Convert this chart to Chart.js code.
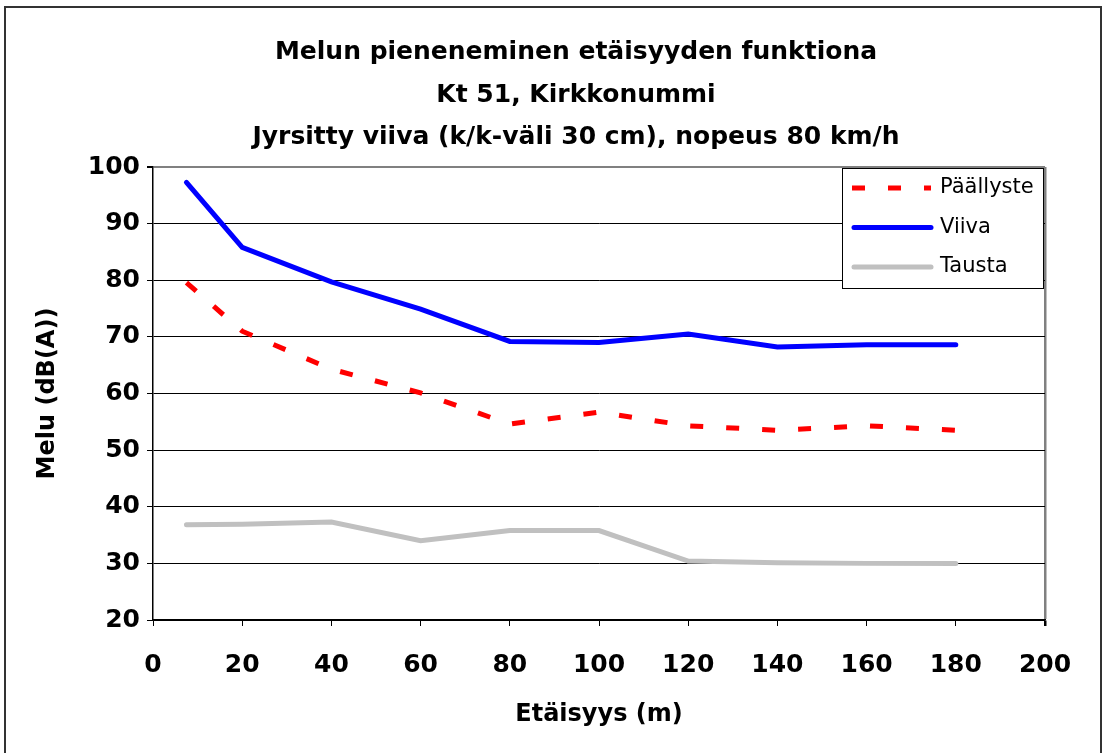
<!DOCTYPE html>
<html>
<head>
<meta charset="utf-8">
<script src="https://cdn.jsdelivr.net/npm/chart.js@4/dist/chart.umd.min.js"></script>
<style>
  body { margin: 0; background: #fff; }
  #wrap { position: relative; width: 1106px; height: 753px; }
</style>
</head>
<body>
<div id="wrap"><canvas id="chart-melu" width="1106" height="753"></canvas></div>
<script>
// values
var distances = [7.5, 20, 40, 60, 80, 100, 120, 140, 160, 180];
var paallyste = [79.6, 71.0, 64.3, 60.1, 54.6, 56.7, 54.3, 53.5, 54.3, 53.5];
var viiva = [97.3, 85.8, 79.7, 74.9, 69.2, 69.0, 70.5, 68.2, 68.6, 68.6];
var tausta = [36.8, 36.9, 37.3, 34.0, 35.8, 35.8, 30.4, 30.1, 30.0, 30.0];
var seriesLabels = ["Päällyste", "Viiva", "Tausta"];
var titleLines = [
  "Melun pieneneminen etäisyyden funktiona",
  "Kt 51, Kirkkonummi",
  "Jyrsitty viiva (k/k-väli 30 cm), nopeus 80 km/h"
];
var xTitle = "Etäisyys (m)";
var yTitle = "Melu (dB(A))";

var FONT = "'DejaVu Sans', 'Liberation Sans', Arial, sans-serif";

function toPoints(ys) {
  return distances.map(function(x, i) { return {x: x, y: ys[i]}; });
}

// title drawn by hand so it can sit off-centre like the original
var titlePlugin = {
  id: 'bigTitle',
  afterDraw: function(chart) {
    var ctx = chart.ctx;
    ctx.save();
    ctx.fillStyle = '#000';
    ctx.font = 'bold 25px ' + FONT;
    ctx.textAlign = 'center';
    ctx.textBaseline = 'middle';
    var ys = [52, 95, 137];
    titleLines.forEach(function(t, i) {
      ctx.fillText(t, 576, ys[i]);
    });
    ctx.restore();
  }
};

// legend box in the top right corner of the plot
var boxLegend = {
  id: 'boxLegend',
  afterDraw: function(chart) {
    var ctx = chart.ctx;
    var area = chart.chartArea;
    var left = 842, top = area.top + 1, w = 201, h = 120;
    ctx.save();
    ctx.fillStyle = '#fff';
    ctx.fillRect(left, top, w, h);
    ctx.strokeStyle = '#000';
    ctx.lineWidth = 1;
    ctx.strokeRect(left + 0.5, top + 0.5, w, h);
    ctx.font = '21px ' + FONT;
    ctx.textBaseline = 'middle';
    ctx.textAlign = 'left';
    chart.data.datasets.forEach(function(d, i) {
      var y = top + 20 + i * 39.5;
      ctx.beginPath();
      ctx.strokeStyle = d.borderColor;
      ctx.lineWidth = d.borderWidth;
      ctx.lineCap = d.borderDash.length ? 'butt' : 'round';
      ctx.setLineDash(d.borderDash);
      ctx.moveTo(d.borderDash.length ? 852 : 854, y);
      ctx.lineTo(931, y);
      ctx.stroke();
      ctx.setLineDash([]);
      ctx.fillStyle = '#000';
      ctx.fillText(d.label, 940, y);
    });
    ctx.restore();
  }
};

// outer frame around the whole figure
var framePlugin = {
  id: 'frame',
  afterDraw: function(chart) {
    var ctx = chart.ctx;
    ctx.save();
    ctx.strokeStyle = '#333';
    ctx.lineWidth = 2;
    ctx.strokeRect(5, 7, 1096, 800);
    ctx.restore();
  }
};

var ctx = document.getElementById('chart-melu').getContext('2d');
var MeluChart = new Chart(ctx, {
  type: 'line',
  data: {
    datasets: [
      {
        label: seriesLabels[0],
        data: toPoints(paallyste),
        borderColor: '#FF0000',
        borderWidth: 5,
        borderDash: [13, 23],
        borderCapStyle: 'butt',
        pointRadius: 0,
        fill: false
      },
      {
        label: seriesLabels[1],
        data: toPoints(viiva),
        borderColor: '#0000FF',
        borderWidth: 5,
        borderDash: [],
        borderCapStyle: 'round',
        pointRadius: 0,
        fill: false
      },
      {
        label: seriesLabels[2],
        data: toPoints(tausta),
        borderColor: '#C0C0C0',
        borderWidth: 5,
        borderDash: [],
        borderCapStyle: 'round',
        pointRadius: 0,
        fill: false
      }
    ]
  },
  options: {
    responsive: false,
    animation: false,
    devicePixelRatio: 1,
    layout: { padding: { left: 20, right: 61, top: 167, bottom: 10 } },
    plugins: {
      legend: { display: false },
      title: { display: false },
      tooltip: { enabled: false }
    },
    scales: {
      x: {
        type: 'linear',
        min: 0,
        max: 200,
        afterFit: function(scale) { scale.height = 123; },
        ticks: {
          stepSize: 20,
          padding: 24,
          color: '#000',
          maxRotation: 0,
          font: { family: FONT, size: 25, weight: 'bold' }
        },
        grid: {
          drawOnChartArea: true,
          color: function(c) { return c.tick && c.tick.value === 200 ? '#808080' : 'rgba(0,0,0,0)'; },
          lineWidth: function(c) { return c.tick && c.tick.value === 200 ? 2.5 : 1; },
          tickColor: '#000',
          tickLength: 6
        },
        border: { color: '#000', width: 1.5 },
        title: {
          display: true,
          text: xTitle,
          color: '#000',
          padding: { top: 4, bottom: 14 },
          font: { family: FONT, size: 24, weight: 'bold' }
        }
      },
      y: {
        min: 20,
        max: 100,
        afterFit: function(scale) { scale.width = 133; },
        ticks: {
          stepSize: 10,
          padding: 7,
          color: '#000',
          font: { family: FONT, size: 25, weight: 'bold' }
        },
        grid: {
          color: function(c) { return c.tick && c.tick.value === 100 ? '#808080' : '#000'; },
          lineWidth: function(c) { return c.tick && c.tick.value === 100 ? 2 : 1; },
          tickColor: '#000',
          tickLength: 6
        },
        border: { color: '#000', width: 1.5 },
        title: {
          display: true,
          text: yTitle,
          color: '#000',
          padding: { top: 13, bottom: 4 },
          font: { family: FONT, size: 24, weight: 'bold' }
        }
      }
    }
  },
  plugins: [titlePlugin, boxLegend, framePlugin]
});
</script>
</body>
</html>
